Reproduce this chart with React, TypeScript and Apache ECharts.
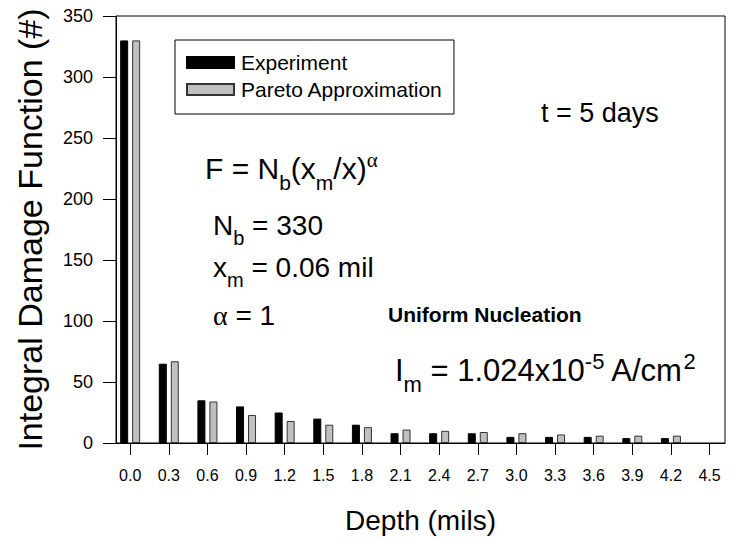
import React, { useEffect, useRef } from "react";
import * as echarts from "echarts";

const depths = [0.0, 0.3, 0.6, 0.9, 1.2, 1.5, 1.8, 2.1, 2.4, 2.7, 3.0, 3.3, 3.6, 3.9, 4.2];
const experiment = [330, 65, 35, 30, 25, 20, 15, 8, 8, 8, 5, 5, 5, 4, 4];
const pareto = [330, 67, 34, 23, 18, 15, 13, 11, 10, 9, 8, 7, 6, 6, 6];
const xTicks = [0.0, 0.3, 0.6, 0.9, 1.2, 1.5, 1.8, 2.1, 2.4, 2.7, 3.0, 3.3, 3.6, 3.9, 4.2, 4.5];

const SANS = "'Liberation Sans', Arial, sans-serif";
const SERIF = "'Liberation Serif', 'Times New Roman', serif";

type Part = { t: string; k?: "sub" | "sup"; serif?: boolean; bold?: boolean };

let ctx: CanvasRenderingContext2D | null = null;
function measure(text: string, font: string) {
  if (!ctx) ctx = document.createElement("canvas").getContext("2d");
  if (!ctx) return text.length * 10;
  ctx.font = font;
  return ctx.measureText(text).width;
}

function line(x: number, baseline: number, size: number, parts: Part[]) {
  const els: any[] = [];
  let cx = x;
  for (const p of parts) {
    let sz = size;
    let dy = 0;
    if (p.k === "sub") { sz = Math.round(size * 0.7); dy = size * 0.36; }
    if (p.k === "sup") { sz = Math.round(size * 0.7); dy = -size * 0.38; }
    const fam = p.serif ? SERIF : SANS;
    const font = `${p.bold ? "bold " : ""}${sz}px ${fam}`;
    const w = measure(p.t, font);
    els.push({
      type: "text",
      x: cx,
      y: baseline + dy - sz * 0.35,
      style: {
        text: p.t,
        fill: "#000",
        font,
        align: "left",
        verticalAlign: "middle",
      },
    });
    cx += w;
  }
  return els;
}

export default function App() {
  const ref = useRef<HTMLDivElement>(null);
  useEffect(() => {
    if (!ref.current) return;
    const chart = echarts.init(ref.current, undefined, { renderer: "svg" });
    const graphics = [
      ...line(541, 122, 27, [{ t: "t = 5 days" }]),
      ...line(205, 179, 30, [
        { t: "F = N" }, { t: "b", k: "sub" }, { t: "(x" }, { t: "m", k: "sub" },
        { t: "/x)" }, { t: "α", k: "sup", serif: true },
      ]),
      ...line(213, 235, 28, [{ t: "N" }, { t: "b", k: "sub" }, { t: " = 330" }]),
      ...line(213, 277, 28, [{ t: "x" }, { t: "m", k: "sub" }, { t: " = 0.06 mil" }]),
      ...line(213, 325, 28, [{ t: "α", serif: true }, { t: " = 1" }]),
      ...line(388, 322, 21, [{ t: "Uniform Nucleation", bold: true }]),
      ...line(395, 381, 31, [
        { t: "I" }, { t: "m", k: "sub" }, { t: " = 1.024x10" }, { t: "-5", k: "sup" },
        { t: " A/cm" }, { t: "2", k: "sup" },
      ]),
    ];
    chart.setOption({
      animation: false,
      textStyle: { fontFamily: SANS },
      grid: {
        left: 116, top: 16, right: 10, bottom: 98,
        show: true, borderColor: "#000", borderWidth: 1, backgroundColor: "transparent",
      },
      legend: {
        left: 175,
        top: 40,
        orient: "vertical",
        itemWidth: 47,
        itemHeight: 11,
        itemGap: 6,
        padding: [12, 11, 14, 11],
        borderColor: "#000",
        borderWidth: 1,
        icon: "rect",
        textStyle: { fontSize: 21, color: "#000", fontFamily: SANS, padding: [0, 0, 0, 2] },
        data: ["Experiment", "Pareto Approximation"],
      },
      xAxis: {
        type: "value",
        min: -0.11,
        max: 4.62,
        name: "Depth (mils)",
        nameLocation: "middle",
        nameGap: 63,
        nameTextStyle: { fontSize: 28, color: "#000", fontFamily: SANS },
        axisLine: { show: true, onZero: false, lineStyle: { color: "#000", width: 1 } },
        axisTick: { show: true, inside: false, length: 12, customValues: xTicks, lineStyle: { color: "#000" } },
        axisLabel: {
          customValues: xTicks,
          margin: 24,
          fontSize: 16,
          color: "#000",
          fontFamily: SANS,
          formatter: (v: number) => v.toFixed(1),
        },
        splitLine: { show: false },
      },
      yAxis: {
        type: "value",
        min: 0,
        max: 350,
        interval: 50,
        name: "Integral Damage Function (#)",
        nameLocation: "middle",
        nameGap: 69,
        nameTextStyle: { fontSize: 34, color: "#000", fontFamily: SANS },
        axisLine: { show: true, onZero: false, lineStyle: { color: "#000", width: 1 } },
        axisTick: { show: true, inside: false, length: 13, lineStyle: { color: "#000" } },
        axisLabel: { margin: 23, fontSize: 18, color: "#000", fontFamily: SANS },
        splitLine: { show: false },
      },
      series: [
        {
          name: "Experiment",
          type: "bar",
          data: depths.map((d, i) => [d, experiment[i]]),
          barWidth: 8,
          barGap: "50%",
          itemStyle: { color: "#000", borderColor: "#000", borderWidth: 1 },
        },
        {
          name: "Pareto Approximation",
          type: "bar",
          data: depths.map((d, i) => [d, pareto[i]]),
          barWidth: 8,
          barGap: "50%",
          itemStyle: { color: "#c0c0c0", borderColor: "#333", borderWidth: 1 },
        },
      ],
      graphic: graphics,
    });
    return () => chart.dispose();
  }, []);
  return <div ref={ref} style={{ width: 735, height: 541, position: "absolute", left: 0, top: 0 }} />;
}
